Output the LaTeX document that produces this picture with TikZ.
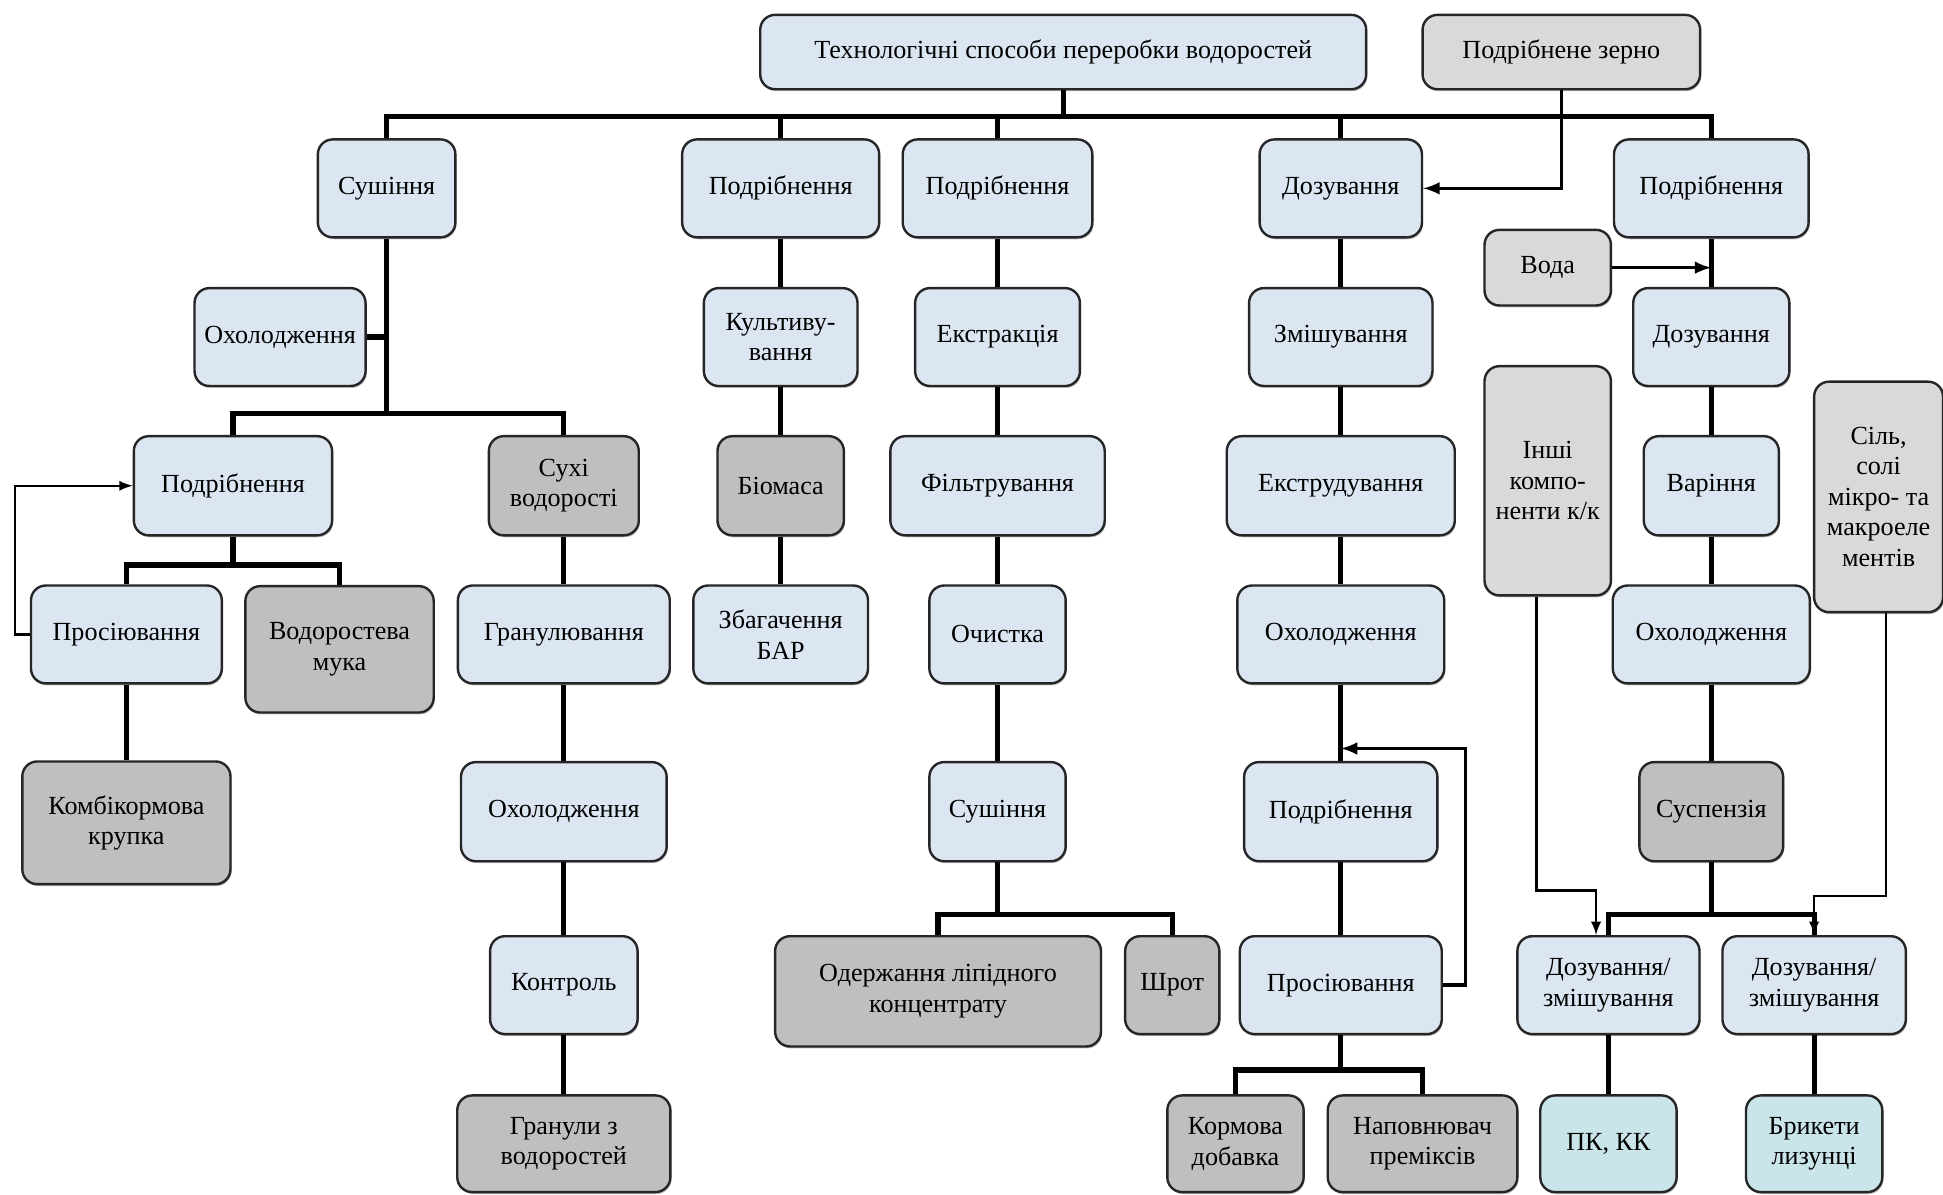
\documentclass[tikz,border=0pt]{standalone}
\usepackage{fontspec}
\setmainfont{Liberation Serif}
\usetikzlibrary{shadows}
\definecolor{stepblue}{HTML}{DCE6F2}
\definecolor{productgray}{HTML}{BFBFBF}
\definecolor{inputgray}{HTML}{D9D9D9}
\definecolor{finalcyan}{HTML}{CAE5E9}

\begin{document}
\begin{tikzpicture}[x=0.02cm, y=-0.02cm,
  box/.style={draw=black!85, line width=1.1pt, rounded corners=0.24cm, align=center,
    inner sep=1pt, font=\fontsize{12}{14}\selectfont,
    drop shadow={shadow xshift=0.5pt, shadow yshift=-0.9pt, fill=black!50}},
  stepbox/.style={box, fill=stepblue},
  prodbox/.style={box, fill=productgray},
  inbox/.style={box, fill=inputgray},
  endbox/.style={box, fill=finalcyan},
  sz/.style 2 args={minimum width=#1*0.02cm, minimum height=#2*0.02cm},
  bus/.style={line width=2.4pt},
  feed/.style={line width=1.6pt, -latex},
  thinfeed/.style={line width=1.1pt, -latex}]

  \useasboundingbox (0,0) rectangle (1568,964);

  % top row
  \node[stepbox, sz={489}{60}] (title) at (858,42) {Технологічні способи переробки водоростей};
  \node[inbox, sz={224}{60}] (grain) at (1260,42) {Подрібнене зерно};

  \node[stepbox, sz={111}{79}] (dry1) at (312,152) {Сушіння};
  \node[stepbox, sz={159}{79}] (grind2) at (630,152) {Подрібнення};
  \node[stepbox, sz={153}{79}] (grind3) at (805,152) {Подрібнення};
  \node[stepbox, sz={131}{79}] (dose4) at (1082,152) {Дозування};
  \node[stepbox, sz={157}{79}] (grind5) at (1381,152) {Подрібнення};

  % drying branch
  \node[stepbox, sz={138}{79}] (cool1) at (226,272) {Охолодження};
  \node[stepbox, sz={160}{80}] (grind1) at (188,392) {Подрібнення};
  \node[prodbox, sz={121}{80}] (dryalg) at (455,392) {Сухі\\водорості};
  \node[stepbox, sz={154}{79}] (sieve1) at (102,512) {Просіювання};
  \node[prodbox, sz={152}{102}] (flour) at (274,524) {Водоростева\\мука};
  \node[prodbox, sz={168}{99}] (groats) at (102,664) {Комбікормова\\крупка};
  \node[stepbox, sz={171}{79}] (gran) at (455,512) {Гранулювання};
  \node[stepbox, sz={166}{80}] (cool2) at (455,655) {Охолодження};
  \node[stepbox, sz={119}{79}] (ctrl) at (455,795) {Контроль};
  \node[prodbox, sz={172}{78}] (pellets) at (455,923) {Гранули з\\водоростей};

  % cultivation branch
  \node[stepbox, sz={124}{79}] (cult) at (630,272) {Культиву-\\вання};
  \node[prodbox, sz={102}{80}] (biomass) at (630,392) {Біомаса};
  \node[stepbox, sz={141}{79}] (enrich) at (630,512) {Збагачення\\БАР};

  % extraction branch
  \node[stepbox, sz={133}{79}] (extr) at (805,272) {Екстракція};
  \node[stepbox, sz={173}{80}] (filt) at (805,392) {Фільтрування};
  \node[stepbox, sz={110}{79}] (clean) at (805,512) {Очистка};
  \node[stepbox, sz={110}{80}] (dry3) at (805,655) {Сушіння};
  \node[prodbox, sz={263}{89}] (lipid) at (757,800) {Одержання ліпідного\\концентрату};
  \node[prodbox, sz={76}{79}] (shrot) at (946,795) {Шрот};

  % extrusion branch
  \node[stepbox, sz={148}{79}] (mix4) at (1082,272) {Змішування};
  \node[stepbox, sz={184}{80}] (extrud) at (1082,392) {Екструдування};
  \node[stepbox, sz={167}{79}] (cool4) at (1082,512) {Охолодження};
  \node[stepbox, sz={156}{80}] (grind4) at (1082,655) {Подрібнення};
  \node[stepbox, sz={163}{79}] (sieve4) at (1082,795) {Просіювання};
  \node[prodbox, sz={110}{78}] (feedadd) at (997,923) {Кормова\\добавка};
  \node[prodbox, sz={153}{78}] (filler) at (1148,923) {Наповнювач\\преміксів};

  % boiling branch
  \node[inbox, sz={102}{61}] (water) at (1249,216) {Вода};
  \node[stepbox, sz={126}{79}] (dose5) at (1381,272) {Дозування};
  \node[stepbox, sz={109}{80}] (boil) at (1381,392) {Варіння};
  \node[stepbox, sz={159}{79}] (cool5) at (1381,512) {Охолодження};
  \node[prodbox, sz={116}{80}] (susp) at (1381,655) {Суспензія};
  \node[inbox, sz={102}{185}] (others) at (1249,388) {Інші\\компо-\\ненти к/к};
  \node[inbox, sz={104}{186}] (salt) at (1516,401) {Сіль,\\солі\\мікро- та\\макроеле\\ментів};
  \node[stepbox, sz={147}{79}] (dm1) at (1298,795) {Дозування/\\змішування};
  \node[stepbox, sz={148}{79}] (dm2) at (1464,795) {Дозування/\\змішування};
  \node[endbox, sz={110}{78}] (pkkk) at (1298,923) {ПК, КК};
  \node[endbox, sz={110}{78}] (briq) at (1464,923) {Брикети\\лизунці};

  % main bus
  \coordinate (topbus) at (0,94);
  \draw[bus] (title.south) -- (title.south |- topbus);
  \draw[bus] (dry1.north) -- (dry1.north |- topbus) -- (grind5.north |- topbus) -- (grind5.north);
  \foreach \n in {grind2, grind3, dose4}
    \draw[bus] (\n.north) -- (\n.north |- topbus);
  \draw[feed] (grain.south) |- (dose4.east);

  % forks
  \draw[bus] (dry1.south) -- ++(0,141) coordinate (dryfork);
  \draw[bus] (cool1.east) -- (cool1.east -| dry1.south);
  \draw[bus] (grind1.north) |- (dryfork) -| (dryalg.north);
  \draw[bus] (grind1.south) -- ++(0,23) coordinate (grindfork);
  \draw[bus] (sieve1.north) |- (grindfork) -| (flour.north);
  \draw[bus] (dry3.south) -- ++(0,42) coordinate (lipidfork);
  \draw[bus] (lipid.north) |- (lipidfork) -| (shrot.north);
  \draw[bus] (sieve4.south) -- ++(0,28) coordinate (sievefork);
  \draw[bus] (feedadd.north) |- (sievefork) -| (filler.north);
  \draw[bus] (susp.south) -- ++(0,42) coordinate (suspfork);
  \draw[bus] (dm1.north) |- (suspfork) -| (dm2.north);

  % straight chains
  \foreach \a/\b in {sieve1/groats, dryalg/gran, gran/cool2, cool2/ctrl, ctrl/pellets,
      grind2/cult, cult/biomass, biomass/enrich,
      grind3/extr, extr/filt, filt/clean, clean/dry3,
      dose4/mix4, mix4/extrud, extrud/cool4, cool4/grind4, grind4/sieve4,
      grind5/dose5, dose5/boil, boil/cool5, cool5/susp, dm1/pkkk, dm2/briq}
    \draw[bus] (\a.south) -- (\b.north);

  % returns and additions
  \draw[thinfeed] (sieve1.west) -- ++(-12,0) |- (grind1.west);
  \draw[feed] (sieve4.east) -- ++(18,0) |- ([yshift=0.2cm]grind4.north);
  \draw[feed] (water.east) -- (water.east -| grind5.south);
  \draw[thinfeed] ([xshift=-0.18cm]others.south) -- ++(0,237) -| ([xshift=-0.2cm]dm1.north);
  \draw[thinfeed] ([xshift=0.12cm]salt.south) -- ++(0,228) -| (dm2.north);

\end{tikzpicture}
\end{document}
